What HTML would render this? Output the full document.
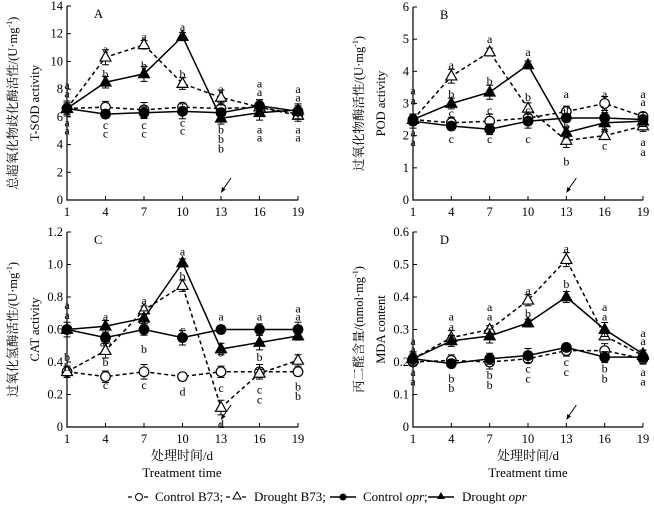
<!DOCTYPE html>
<html><head><meta charset="utf-8">
<style>
html,body{margin:0;padding:0;background:#fff;}
svg{display:block;font-family:"Liberation Serif","Noto Serif CJK SC",serif;}
</style></head>
<body>
<svg id="chart" width="654" height="507" viewBox="0 0 654 507"></svg>
<script>
const days = [1,4,7,10,13,16,19];
const seriesNames = ["Control B73","Drought B73","Control opr","Drought opr"];
// Panel A T-SOD
const aCB73 = [6.6,6.7,6.5,6.7,6.6,6.7,6.2];
const aDB73 = [6.6,10.3,11.2,8.4,7.4,6.7,6.1];
const aCopr = [6.6,6.2,6.3,6.4,6.3,6.8,6.4];
const aDopr = [6.6,8.5,9.1,11.8,5.9,6.3,6.5];
// Panel B POD
const bCB73 = [2.5,2.4,2.45,2.55,2.75,3.0,2.6];
const bDB73 = [2.5,3.85,4.6,2.85,1.85,2.0,2.3];
const bCopr = [2.45,2.3,2.2,2.45,2.55,2.55,2.5];
const bDopr = [2.5,3.0,3.35,4.2,2.1,2.4,2.45];
// Panel C CAT
const cCB73 = [0.34,0.31,0.34,0.31,0.34,0.34,0.34];
const cDB73 = [0.34,0.47,0.72,0.87,0.12,0.33,0.41];
const cCopr = [0.60,0.55,0.60,0.55,0.60,0.60,0.60];
const cDopr = [0.60,0.62,0.67,1.01,0.48,0.52,0.56];
// Panel D MDA
const dCB73 = [0.20,0.205,0.20,0.21,0.235,0.235,0.21];
const dDB73 = [0.21,0.275,0.30,0.39,0.515,0.28,0.22];
const dCopr = [0.21,0.195,0.21,0.22,0.245,0.215,0.215];
const dDopr = [0.21,0.265,0.28,0.32,0.40,0.30,0.225];
const aTicks = [0,2,4,6,8,10,12,14];
const bTicks = [0,1,2,3,4,5,6];
const cTicks = ["0","0.2","0.4","0.6","0.8","1.0","1.2"];
const dTicks = ["0","0.1","0.2","0.3","0.4","0.5","0.6"];
const aLetters = [[0,8.3,"a"],[0,7.7,"a"],[0,5.6,"a"],[0,5.0,"a"],[1,10.9,"a"],[1,9.1,"b"],[1,5.4,"c"],[1,4.8,"c"],[2,11.8,"a"],[2,9.7,"b"],[2,5.4,"c"],[2,4.8,"c"],[3,12.5,"a"],[3,9.1,"b"],[3,5.6,"c"],[3,5.0,"c"],[4,8.0,"a"],[4,5.1,"b"],[4,4.4,"b"],[4,3.7,"b"],[5,8.4,"a"],[5,7.8,"a"],[5,5.1,"a"],[5,4.5,"a"],[6,8.0,"a"],[6,7.4,"a"],[6,5.1,"a"],[6,4.5,"a"]];
const bLetters = [[0,3.4,"a"],[0,3.1,"a"],[0,2.1,"a"],[0,1.8,"a"],[1,4.2,"a"],[1,3.3,"b"],[1,2.7,"c"],[1,1.9,"c"],[2,5.0,"a"],[2,3.7,"b"],[2,2.8,"c"],[2,1.9,"c"],[3,4.6,"a"],[3,3.2,"b"],[3,2.8,"c"],[3,1.9,"c"],[4,3.3,"a"],[4,2.8,"ab"],[4,2.3,"b"],[4,1.2,"b"],[5,3.3,"a"],[5,2.8,"b"],[5,2.2,"b"],[5,1.7,"c"],[6,3.3,"a"],[6,3.05,"a"],[6,1.8,"a"],[6,1.5,"a"]];
const cLetters = [[0,0.75,"a"],[0,0.69,"a"],[0,0.43,"b"],[0,0.37,"b"],[1,0.68,"a"],[1,0.52,"ab"],[1,0.4,"b"],[1,0.26,"c"],[2,0.78,"a"],[2,0.66,"ab"],[2,0.48,"b"],[2,0.26,"c"],[3,1.08,"a"],[3,0.93,"b"],[3,0.6,"c"],[3,0.22,"d"],[4,0.68,"a"],[4,0.46,"b"],[4,0.24,"c"],[4,0.02,"d"],[5,0.68,"a"],[5,0.43,"b"],[5,0.23,"c"],[5,0.17,"c"],[6,0.73,"a"],[6,0.68,"a"],[6,0.25,"b"],[6,0.19,"b"]];
const dLetters = [[0,0.265,"a"],[0,0.24,"a"],[0,0.17,"a"],[0,0.14,"a"],[1,0.34,"a"],[1,0.31,"a"],[1,0.15,"b"],[1,0.12,"b"],[2,0.37,"a"],[2,0.34,"a"],[2,0.16,"b"],[2,0.13,"b"],[3,0.42,"a"],[3,0.35,"b"],[3,0.18,"c"],[3,0.15,"c"],[4,0.55,"a"],[4,0.44,"b"],[4,0.2,"c"],[4,0.17,"c"],[5,0.37,"a"],[5,0.34,"a"],[5,0.18,"b"],[5,0.15,"b"],[6,0.29,"a"],[6,0.265,"a"],[6,0.17,"a"],[6,0.14,"a"]];

const NS="http://www.w3.org/2000/svg";
const svg=document.getElementById('chart');
function el(tag,attrs,parent){const e=document.createElementNS(NS,tag);for(const k in attrs)e.setAttribute(k,attrs[k]);(parent||svg).appendChild(e);return e;}
function txt(s,attrs,parent){const e=el('text',attrs,parent);e.textContent=s;return e;}

function panel(cfg){
  const g=el('g',{});
  
  
  const x=d=>cfg.x0+(d-1)/18*(cfg.x1-cfg.x0);
  const y=v=>cfg.y0-v/cfg.ymax*(cfg.y0-cfg.y1);
  const ax=el('path',{d:`M${cfg.x0} ${cfg.y1}V${cfg.y0}H${cfg.x1}`,stroke:'#000','stroke-width':1.2,fill:'none'},g);
  
  
  cfg.ticks.forEach(t=>{const v=parseFloat(t);const yy=y(v);
    el('line',{x1:cfg.x0,x2:cfg.x0+4,y1:yy,y2:yy,stroke:'#000','stroke-width':1},g);
    const tl=txt(String(t),{x:cfg.x0-4,y:yy+4,'text-anchor':'end','font-size':12.5},g);
    
    
  });
  days.forEach(d=>{const xx=x(d);
    el('line',{x1:xx,x2:xx,y1:cfg.y0,y2:cfg.y0-4,stroke:'#000','stroke-width':1},g);
    const tl=txt(String(d),{x:xx,y:cfg.y0+16,'text-anchor':'middle','font-size':12.5},g);
    
    
  });
  const pl=txt(cfg.id,{x:cfg.x0+27,y:cfg.y1+12,'font-size':12.5},g);
  
  
  const cy=(cfg.y0+cfg.y1)/2;
  const t1=txt(cfg.cn,{transform:`translate(${cfg.x0-50},${cy}) rotate(-90)`,'text-anchor':'middle','font-size':12.5},g);
  
  
  const sup=el('tspan',{dy:-5,'font-size':8},t1);sup.textContent='-1';
  const close=el('tspan',{dy:5},t1);close.textContent=')';
  const t2=txt(cfg.en,{transform:`translate(${cfg.x0-28},${cy}) rotate(-90)`,'text-anchor':'middle','font-size':12.5},g);
  
  
  const axx=x(13);
  el('line',{x1:axx+10,y1:cfg.y0-22,x2:axx+1,y2:cfg.y0-9,stroke:'#000','stroke-width':1},g);
  el('path',{d:`M${axx} ${cfg.y0-7} l1 -6 l3.5 2.5z`,fill:'#000'},g);
  const styles=[{dash:'4,3',shape:'circle',fill:'#fff'},{dash:'4,3',shape:'tri',fill:'#fff'},{dash:null,shape:'circle',fill:'#000'},{dash:null,shape:'tri',fill:'#000'}];
  cfg.series.forEach((vals,i)=>{
    const st=styles[i];
    const sg=el('g',{},g);
    
    
    const pts=vals.map((v,j)=>x(days[j])+','+y(v)).join(' ');
    const pl=el('polyline',{points:pts,fill:'none',stroke:'#000','stroke-width':1.5},sg);
    if(st.dash)pl.setAttribute('stroke-dasharray',st.dash);
    vals.forEach((v,j)=>{
      const cx=x(days[j]),cyy=y(v),e=cfg.err*(1+((j+i)%3)*0.4);
      el('path',{d:`M${cx} ${y(v+e)}V${y(v-e)}M${cx-3.5} ${y(v+e)}h7M${cx-3.5} ${y(v-e)}h7`,stroke:'#000','stroke-width':1,fill:'none'},sg);
      let m;
      if(st.shape==='circle')m=el('circle',{cx:cx,cy:cyy,r:4.8,fill:st.fill,stroke:'#000','stroke-width':1.2},sg);
      else m=el('path',{d:`M${cx} ${cyy-6}L${cx+5.5} ${cyy+3.8}L${cx-5.5} ${cyy+3.8}Z`,fill:st.fill,stroke:'#000','stroke-width':1.2},sg);
      
      
    });
  });
  cfg.letters.forEach(l=>{
    const lt=txt(l[2],{x:x(days[l[0]]),y:y(l[1])+4,'text-anchor':'middle','font-size':12},g);
    
    
  });
}
panel({id:'A',x0:67,x1:298,y0:200,y1:6,ymax:14,ticks:aTicks,series:[aCB73,aDB73,aCopr,aDopr],err:0.3,letters:aLetters,cn:'总超氧化物歧化酶活性/(U·mg',en:'T-SOD activity'});
panel({id:'B',x0:413,x1:643,y0:200,y1:7,ymax:6,ticks:bTicks,series:[bCB73,bDB73,bCopr,bDopr],err:0.12,letters:bLetters,cn:'过氧化物酶活性/(U·mg',en:'POD activity'});
panel({id:'C',x0:67,x1:298,y0:427,y1:232,ymax:1.2,ticks:cTicks,series:[cCB73,cDB73,cCopr,cDopr],err:0.025,letters:cLetters,cn:'过氧化氢酶活性/(U·mg',en:'CAT activity'});
panel({id:'D',x0:413,x1:643,y0:427,y1:232,ymax:0.6,ticks:dTicks,series:[dCB73,dDB73,dCopr,dDopr],err:0.012,letters:dLetters,cn:'丙二醛含量/(nmol·mg',en:'MDA content'});
[[182],[528]].forEach(([cx],k)=>{
  const a=txt('处理时间/d',{x:cx,y:460,'text-anchor':'middle','font-size':13});
  
  
  const b=txt('Treatment time',{x:cx,y:477,'text-anchor':'middle','font-size':13});
  
  
});
</script>
<svg width="654" height="20" style="position:absolute;left:0;top:487px">
<g font-family="Liberation Serif, serif" font-size="13">
<g><line x1="128" y1="10" x2="150" y2="10" stroke="#000" stroke-dasharray="4,4" stroke-width="1.3"/><circle cx="139" cy="10" r="3.5" fill="#fff" stroke="#000"/><text x="155" y="14">Control B73;</text></g>
<g><line x1="226" y1="10" x2="248" y2="10" stroke="#000" stroke-dasharray="4,4" stroke-width="1.3"/><path d="M237 5L241 12L233 12Z" fill="#fff" stroke="#000"/><text x="254" y="14">Drought B73;</text></g>
<g><line x1="330" y1="10" x2="356" y2="10" stroke="#000" stroke-width="1.5"/><circle cx="343" cy="10" r="3.5" fill="#000"/><text x="363" y="14">Control <tspan font-style="italic">opr</tspan>;</text></g>
<g><line x1="428" y1="10" x2="454" y2="10" stroke="#000" stroke-width="1.5"/><path d="M441 5L445 12L437 12Z" fill="#000"/><text x="462" y="14">Drought <tspan font-style="italic">opr</tspan></text></g>
</g></svg>
</body></html>
